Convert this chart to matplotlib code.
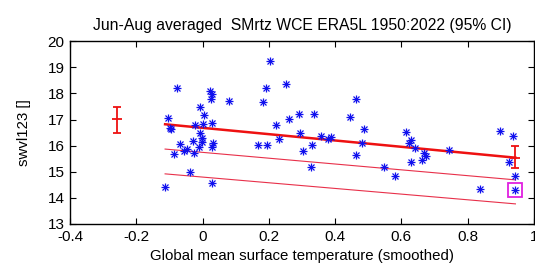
"""Jun-Aug SMrtz WCE ERA5L against smoothed GMST, gnuplot-like look."""

import matplotlib

matplotlib.use("Agg")
import matplotlib.pyplot as plt

plt.rcParams["font.family"] = ["Liberation Sans", "DejaVu Sans"]

gmst = [
    -0.113, -0.103, -0.098, -0.095, -0.085, -0.078, -0.068, -0.056, -0.047,
    -0.037, -0.030, -0.027, -0.022, -0.012, -0.009, -0.007, -0.002, -0.002,
    0.000, 0.003, 0.021, 0.026, 0.030, 0.028, 0.031, 0.030, 0.030, 0.079,
    0.167, 0.182, 0.194, 0.192, 0.204, 0.221, 0.232, 0.253, 0.260, 0.292,
    0.295, 0.303, 0.328, 0.330, 0.337, 0.358, 0.380, 0.389, 0.446, 0.463,
    0.463, 0.481, 0.486, 0.547, 0.580, 0.614, 0.622, 0.630, 0.630, 0.642,
    0.663, 0.667, 0.673, 0.745, 0.836, 0.897, 0.924, 0.936, 0.942, 0.944,
]
swvl = [
    14.43, 17.05, 16.69, 16.62, 15.67, 18.22, 16.07, 15.81, 15.86,
    15.00, 16.18, 15.71, 16.78, 15.94, 17.47, 16.48, 16.31, 16.15,
    16.82, 17.18, 18.10, 17.79, 17.98, 15.96, 16.09, 16.88, 14.56, 17.71,
    16.03, 17.66, 16.04, 18.22, 19.26, 16.79, 16.26, 18.36, 17.01, 17.21,
    16.48, 15.80, 15.20, 16.03, 17.21, 16.37, 16.26, 16.32, 17.09, 17.79,
    15.64, 16.09, 16.64, 15.17, 14.84, 16.54, 16.09, 16.22, 15.39, 15.92,
    15.45, 15.73, 15.61, 15.84, 14.33, 16.57, 15.39, 16.37, 14.84, 14.30,
]

# 拟合线与两条回归期线的端点
fit_x = [-0.113, 0.944]
fit_y = [16.82, 15.54]
rp1_y = [15.87, 14.69]
rp2_y = [14.92, 13.77]

# 置信区间误差棒
ci_x = [-0.257, 0.944]
ci_mid = [17.01, 15.54]
ci_low = [16.50, 15.16]
ci_high = [17.48, 16.00]

# 标记的年份（2022）
mark_x = [0.944]
mark_y = [14.30]

x_ticks = [-0.4, -0.2, 0, 0.2, 0.4, 0.6, 0.8, 1]
y_ticks = [13, 14, 15, 16, 17, 18, 19, 20]

fig = plt.figure(figsize=(5.35, 2.75), dpi=100)
# 右边框几乎贴着图片边缘，刻度 "1" 会被裁掉一半
ax = fig.add_axes([0.1308, 0.1855, 0.8673, 0.6645])

ax.plot(fit_x, rp1_y, color="#e8304a", lw=0.8, zorder=2)
ax.plot(fit_x, rp2_y, color="#e8304a", lw=0.8, zorder=2)
ax.plot(fit_x, fit_y, color="#ee1111", lw=1.8, zorder=2)

ax.plot(gmst, swvl, ls="none", marker="+", ms=5.5, mew=0.9, color="#1010ee", zorder=3)
ax.plot(gmst, swvl, ls="none", marker="x", ms=4.2, mew=0.9, color="#1010ee", zorder=3)

yerr = [
    [m - lo for m, lo in zip(ci_mid, ci_low)],
    [hi - m for m, hi in zip(ci_mid, ci_high)],
]
ax.errorbar(ci_x, ci_mid, yerr=yerr, fmt="none", ecolor="#ee1111",
            elinewidth=1.3, capsize=3.2, capthick=1.3, zorder=4)
# 中心的小横线
ax.plot(ci_x, ci_mid, ls="none", marker="_", ms=6.5, mew=1.3, color="#ee1111", zorder=4)

ax.plot(mark_x, mark_y, ls="none", marker="s", ms=9.5, mfc="none",
        mec="#e020e0", mew=1.3, zorder=5)

ax.set_xlim(-0.4, 1.0)
ax.set_ylim(13, 20)
ax.set_xticks(x_ticks)
ax.set_xticklabels(["-0.4", "-0.2", "0", "0.2", "0.4", "0.6", "0.8", "1"])
ax.set_yticks(y_ticks)
ax.tick_params(direction="in", length=4.5, width=0.8, top=True, right=True,
               labelsize=11, pad=4)
for spine in ax.spines.values():
    spine.set_linewidth(1.0)

ax.set_title("Jun-Aug averaged  SMrtz WCE ERA5L 1950:2022 (95% CI)",
             fontsize=11.3, pad=8)
ax.set_xlabel("Global mean surface temperature (smoothed)", fontsize=10.8, labelpad=4)
ax.set_ylabel("swvl123 []", fontsize=10.8, labelpad=12)

fig.savefig("out.png", dpi=100)
